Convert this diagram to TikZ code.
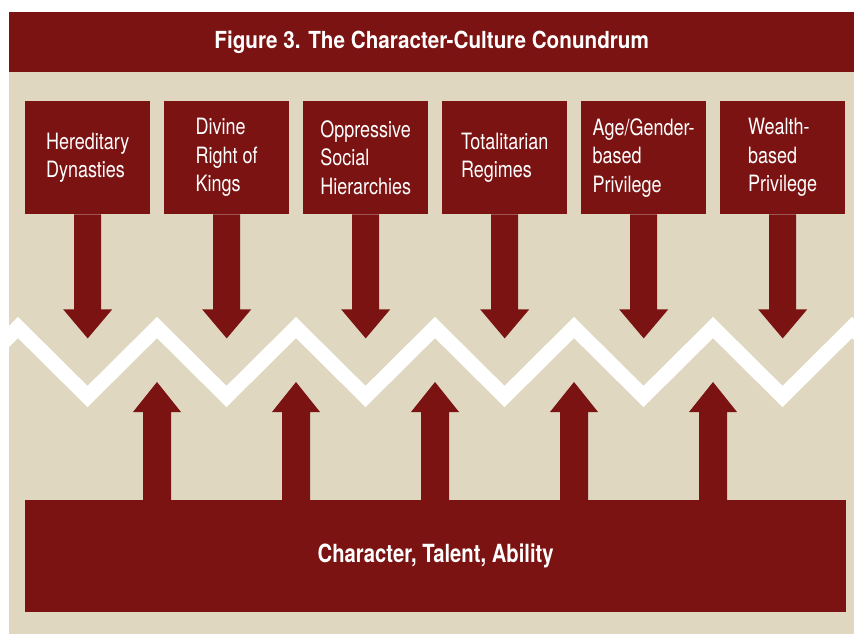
\documentclass[tikz,border=0pt]{standalone}
\usepackage{fontspec}
\setmainfont{TeX Gyre Heros}[FakeStretch=0.8]
\newfontfamily\ttlfont{TeX Gyre Heros}[FakeStretch=0.88]
\newfontfamily\basefont{TeX Gyre Heros}[FakeStretch=0.81]
\usetikzlibrary{calc}
\definecolor{dred}{RGB}{122,19,18}
\definecolor{beige}{RGB}{223,215,192}
\tikzset{
  topbox/.style={rectangle, fill=dred, text=white, inner sep=0pt, anchor=north west,
    minimum width=125pt, minimum height=113pt, align=left,
    font=\fontsize{22.5}{28.5}\selectfont},
  zig/.style={draw=white, line width=15pt, miter limit=10, line join=miter},
  arr/.style={fill=dred}
}
\begin{document}
\begin{tikzpicture}[x=1pt,y=-1pt]
\useasboundingbox (0,0) rectangle (854,634);
\fill[white] (0,0) rectangle (854,634);
\fill[beige] (9,72) rectangle (854,634);
\node[rectangle, fill=dred, text=white, anchor=north west, minimum width=845pt, minimum height=60pt, inner sep=0pt,
  font=\ttlfont\bfseries\fontsize{23.5}{28}\selectfont] (title) at (9,12) {Figure 3. The Character-Culture Conundrum};
% zigzag
\begin{scope}
\clip (9,72) rectangle (854,634);
\draw[zig] (-51.5,396.5) \foreach \k in {0,...,6} { -- ({18+139*\k},327.5) -- ({87.5+139*\k},396.5) };
\end{scope}
% top boxes
\node[topbox] (b0) at (25,101) {Hereditary\\Dynasties};
\node[topbox] (b1) at (164,101) {Divine\\Right of\\Kings};
\node[topbox] (b2) at (303,101) {Oppressive\\Social\\Hierarchies};
\node[topbox] (b3) at (442,101) {Totalitarian\\Regimes};
\node[topbox] (b4) at (581,101) {Age/Gender-\\based\\Privilege};
\node[topbox] (b5) at (720,101) {Wealth-\\based\\Privilege};
% bottom box
\node[rectangle, fill=dred, text=white, anchor=north west, minimum width=821pt, minimum height=112pt, inner sep=0pt,
  font=\basefont\bfseries\fontsize{25}{30}\selectfont] (base) at (25,500) {Character, Talent, Ability};
% down arrows
\foreach \i in {0,...,5} {
  \fill[arr] ($(b\i.south)+(-13.5,0)$) -- ($(b\i.south)+(13.5,0)$) -- ($(b\i.south)+(13.5,95)$)
    -- ($(b\i.south)+(24.5,95)$) -- ($(b\i.south)+(0,124)$) -- ($(b\i.south)+(-24.5,95)$)
    -- ($(b\i.south)+(-13.5,95)$) -- cycle;
}
% up arrows
\foreach \j in {0,...,4} {
  \coordinate (u\j) at ({157+139*\j},500);
  \fill[arr] ($(u\j)+(-14,0.5)$) -- ($(u\j)+(14,0.5)$) -- ($(u\j)+(14,-88)$) -- ($(u\j)+(24,-88)$)
    -- ($(u\j)+(0,-118)$) -- ($(u\j)+(-24,-88)$) -- ($(u\j)+(-14,-88)$) -- cycle;
}
\end{tikzpicture}
\end{document}
